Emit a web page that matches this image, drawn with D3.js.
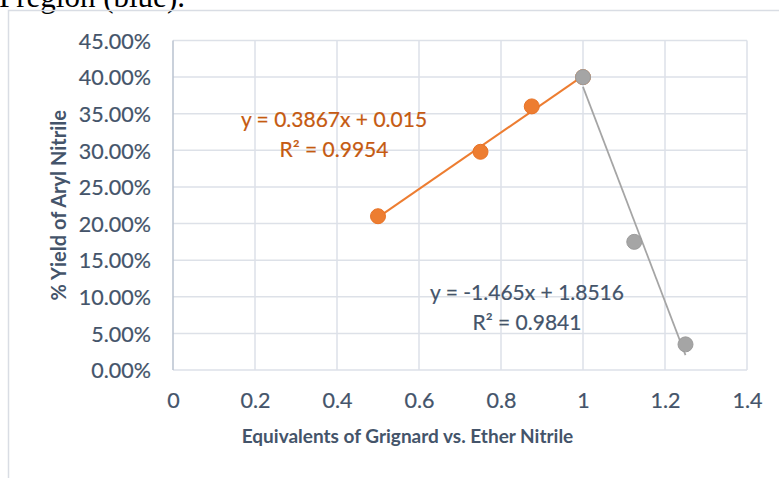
<!DOCTYPE html>
<html>
<head>
<meta charset="utf-8">
<script src="https://cdn.jsdelivr.net/npm/d3@7"></script>
<style>
  body { margin: 0; background: #fff; }
  svg { display: block; }
</style>
</head>
<body>
<svg id="chart"></svg>
<script>
// data
const xTicks = [0, 0.2, 0.4, 0.6, 0.8, 1, 1.2, 1.4];
const yTicks = [0, 0.05, 0.10, 0.15, 0.20, 0.25, 0.30, 0.35, 0.40, 0.45];

const risingX = [0.5, 0.75, 0.875, 1.0];
const risingY = [0.21, 0.298, 0.36, 0.40];
const fallingX = [1.0, 1.125, 1.25];
const fallingY = [0.40, 0.175, 0.035];

// trendline coefficients as shown on the chart
const risingFit = [0.3867, 0.015];
const fallingFit = [-1.465, 1.8516];
const risingLabel = ["y = 0.3867x + 0.015", "R\u00b2 = 0.9954"];
const fallingLabel = ["y = -1.465x + 1.8516", "R\u00b2 = 0.9841"];

const xTitle = "Equivalents of Grignard vs. Ether Nitrile";
const yTitle = "% Yield of Aryl Nitrile";

const [w, h] = [779, 478];
const font = "Lato, 'Open Sans', sans-serif";
const textCol = "#44546a";

const svg = d3.select("#chart").attr("width", w).attr("height", h);

// leftover line of document text above the chart
svg.append("text").attr("x", -1).attr("y", 7)
  .attr("font-family", "'Liberation Serif', 'Times New Roman', serif")
  .attr("font-size", 31).attr("fill", "#000")
  .text("Pregion (blue).");

// chart frame
svg.append("rect").attr("x", 8.5).attr("y", 10.5).attr("width", 800).attr("height", 500)
  .attr("fill", "none").attr("stroke", "#d9dde4").attr("stroke-width", 1.5);

const xScale = d3.scaleLinear().domain([0, 1.4]).range([173, 747]);
const yScale = d3.scaleLinear().domain([0, 0.45]).range([370, 40.5]);

//gridlines
svg.append("g").selectAll("line").data(yTicks).enter().append("line")
  .attr("x1", xScale(0)).attr("x2", xScale(1.4))
  .attr("y1", d => yScale(d)).attr("y2", d => yScale(d))
  .attr("stroke", "#dde1e8").attr("stroke-width", 1.5);
svg.append("g").selectAll("line").data(xTicks).enter().append("line")
  .attr("x1", d => xScale(d)).attr("x2", d => xScale(d))
  .attr("y1", yScale(0)).attr("y2", yScale(0.45))
  .attr("stroke", d => d === 0 ? "#b9c2cf" : "#dde1e8").attr("stroke-width", 1.5);

//axes (labels only, Excel style)
const xAxis = d3.axisBottom(xScale).tickValues(xTicks).tickSize(0).tickPadding(0)
  .tickFormat(d3.format("~g"));
const yAxis = d3.axisLeft(yScale).tickValues(yTicks).tickSize(0).tickPadding(0)
  .tickFormat(d3.format(".2%"));

const gx = svg.append("g").attr("transform", `translate(0, ${yScale(0) + 38})`).call(xAxis);
const gy = svg.append("g").attr("transform", `translate(${xScale(0) - 22}, 0)`).call(yAxis);
[gx, gy].forEach(g => {
  g.select(".domain").remove();
  g.selectAll("text").attr("font-family", font).attr("font-size", 21.5)
    .attr("fill", textCol).attr("stroke", textCol).attr("stroke-width", 0.2);
});
gx.selectAll("text").attr("dy", 0);
gy.selectAll("text").attr("dy", "0.36em");

//titles
svg.append("text").attr("x", 407.5).attr("y", 443).attr("text-anchor", "middle")
  .attr("font-family", font).attr("font-weight", "bold").attr("font-size", 19)
  .attr("fill", textCol).text(xTitle);
svg.append("text").attr("transform", `translate(66, ${(yScale(0) + yScale(0.45)) / 2}) rotate(-90)`)
  .attr("text-anchor", "middle")
  .attr("font-family", font).attr("font-weight", "bold").attr("font-size", 20)
  .attr("fill", textCol).text(yTitle);

//trendlines
const line = d3.line().x(d => xScale(d[0])).y(d => yScale(d[1]));
const fitPts = (xs, f) => [d3.min(xs), d3.max(xs)].map(x => [x, f[0] * x + f[1]]);

svg.append("path").datum(fitPts(risingX, risingFit)).attr("d", line)
  .attr("fill", "none").attr("stroke", "#ed7d31").attr("stroke-width", 2);
svg.append("path").datum(fitPts(fallingX, fallingFit)).attr("d", line)
  .attr("fill", "none").attr("stroke", "#a5a5a5").attr("stroke-width", 1.75);

//markers
svg.append("g").selectAll("circle").data(d3.zip(risingX, risingY)).enter().append("circle")
  .attr("cx", d => xScale(d[0])).attr("cy", d => yScale(d[1])).attr("r", 7.5)
  .attr("fill", "#ed7d31").attr("stroke", "#e87225").attr("stroke-width", 1);
svg.append("g").selectAll("circle").data(d3.zip(fallingX, fallingY)).enter().append("circle")
  .attr("cx", d => xScale(d[0])).attr("cy", d => yScale(d[1])).attr("r", 7.5)
  .attr("fill", "#a5a5a5").attr("stroke", "#9c9c9c").attr("stroke-width", 1);

//trendline labels
const eqLabel = (lines, cx, y0, col) => {
  svg.append("g").selectAll("text").data(lines).enter().append("text")
    .attr("x", cx).attr("y", (d, i) => y0 + i * 30).attr("text-anchor", "middle")
    .attr("font-family", font).attr("font-size", 21)
    .attr("fill", col).attr("stroke", col).attr("stroke-width", 0.2).text(d => d);
};
eqLabel(risingLabel, 334, 127, "#c55a11");
eqLabel(fallingLabel, 527, 300, textCol);
</script>
</body>
</html>
